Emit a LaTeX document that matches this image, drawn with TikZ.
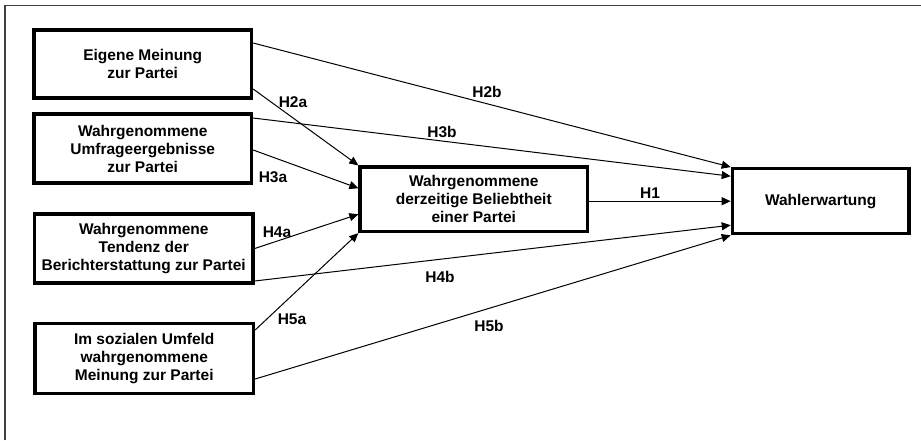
\documentclass[tikz,border=0pt]{standalone}
\usepackage{fontspec}
\setmainfont{Liberation Sans}
\usetikzlibrary{arrows.meta,calc}
\begin{document}
\begin{tikzpicture}[x=1pt,y=-1pt,
  box/.style={draw=black,line width=3.3pt,align=center,inner sep=0pt,
    font=\fontsize{15.5}{18}\selectfont\bfseries},
  conn/.style={line width=1pt,-{Triangle[length=9pt,width=8pt]}},
  lab/.style={font=\fontsize{15.5}{18}\selectfont\bfseries,inner sep=0pt}]
\useasboundingbox (0,0) rectangle (921,440);
\fill[white] (0,0) rectangle (921,440);
\draw[line width=1.6pt,black!75] (5,440) -- (5,5.5) -- (921,5.5);

\node[box,minimum width=217.5pt,minimum height=68pt] (b1) at (142.75,64) {Eigene Meinung\\zur Partei};
\node[box,minimum width=217.5pt,minimum height=69pt] (b2) at (142.75,148.5) {Wahrgenommene\\Umfrageergebnisse\\zur Partei};
\node[box,minimum width=218.5pt,minimum height=69pt] (b3) at (143.75,248.5) {Wahrgenommene\\Tendenz der\\Berichterstattung zur Partei};
\node[box,minimum width=218.5pt,minimum height=70pt] (b4) at (144.25,358.5) {Im sozialen Umfeld\\wahrgenommene\\Meinung zur Partei};
\node[box,minimum width=227.5pt,minimum height=64.5pt] (c) at (473.75,199.25) {Wahrgenommene\\derzeitige Beliebtheit\\einer Partei};
\node[box,minimum width=176.7pt,minimum height=65pt] (w) at (820.7,201.2) {Wahlerwartung};

\draw[conn] ([yshift=21pt]b1.east) -- (w.north west);
\draw[conn] ([yshift=-25pt]b1.east) -- (c.north west);
\draw[conn] ([yshift=30.5pt]b2.east) -- ([yshift=25pt]w.west);
\draw[conn] ([yshift=-1.5pt]b2.east) -- ([yshift=11pt]c.west);
\draw[conn] (b3.east) -- ([yshift=-15pt]c.west);
\draw[conn] ([yshift=-32.5pt]b3.east) -- ([yshift=-24pt]w.west);
\draw[conn] ([yshift=28.5pt]b4.east) -- (c.south west);
\draw[conn] ([yshift=-20.5pt]b4.east) -- (w.south west);
\draw[conn] ([yshift=-1.95pt]c.east) -- (w.west);

\node[lab] (l2a) at (293,102) {H2a};
\node[lab] (l2b) at (487,92) {H2b};
\node[lab] (l3a) at (273,177) {H3a};
\node[lab] (l3b) at (442,132) {H3b};
\node[lab] (l1) at (650,193) {H1};
\node[lab] (l4a) at (277,232) {H4a};
\node[lab] (l4b) at (440,277) {H4b};
\node[lab] (l5a) at (292,319) {H5a};
\node[lab] (l5b) at (489,326) {H5b};
\end{tikzpicture}
\end{document}
